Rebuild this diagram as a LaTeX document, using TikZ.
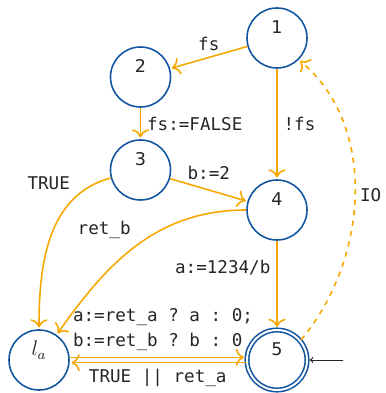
\documentclass[tikz,border=0pt]{standalone}
\usepackage{amsmath}
\usepackage{fontspec}
\setmainfont{DejaVu Sans}
\setmonofont{DejaVu Sans Mono}
\usetikzlibrary{arrows.meta}
\usetikzlibrary{automata}
\definecolor{stateblue}{RGB}{18,86,162}
\definecolor{transorange}{RGB}{246,168,0}

\begin{document}
\begin{tikzpicture}[shorten >=1pt,auto,initial text=,>={Computer Modern Rightarrow[scale=1.3]},
      every state/.style={draw=stateblue,line width=0.9pt,minimum size=1.2cm,inner sep=0pt,
                          text height=7.3pt,text depth=12pt,text=black!85},
      accepting by double/.append style={double distance=1.1pt},
      every initial by arrow/.style={black!85,thin,>=to},
      initial distance=0.7cm,
      trans/.style={->,transorange,line width=0.9pt},
      lbl/.style={font=\ttfamily,text=black!85}]
      				\useasboundingbox (0,0) rectangle (7.72,-7.86);
      				\node[state]                    (q_1) at (5.54,-0.76)      {1};
      				\node[state]                    (q_2) at (2.81,-1.54)      {2};
	      			\node[state]                    (q_3) [below of=q_2,node distance=1.86cm] {3};
	      			\node[state]                    (q_4) [below of=q_1,node distance=3.44cm] {4};
	      			\node[state,accepting,initial,initial right] (q_5) [below of=q_4,node distance=3cm] {5};
	      			\node[state]                    (l_a) [left of=q_5,node distance=4.76cm]  {\large$l_a$};
	     			\path[trans] (q_1) edge              node [lbl,above] {fs} (q_2)
	     			edge              node [lbl]       {!fs} (q_4)
	      			(q_2) edge              node [lbl]       {fs:=FALSE} (q_3)
	      			(q_3) edge              node [lbl,above,yshift=2pt] {b:=2} (q_4)
	      			edge [out=195,in=90] node [lbl,swap,pos=0.22] {TRUE} (l_a)
	      			(q_4) edge [out=180,in=55] node [lbl,swap] {ret\_b} (l_a)
	      			edge              node [lbl,swap,pos=0.3] {a:=1234/b} (q_5)
	      			([yshift=1.5pt]l_a.east) edge node [lbl,align=left,xshift=3pt] {a:=ret\_a ? a : 0;\\[2pt]b:=ret\_b ? b : 0} ([yshift=1.5pt]q_5.west)
	      			([yshift=-1.5pt]q_5.west) edge node [lbl] {TRUE || ret\_a} ([yshift=-1.5pt]l_a.east)
	      			(q_5.40) edge [dashed,out=50,in=-40,looseness=0.95] node [lbl,right,inner sep=2.5pt] {IO} (q_1.-45)
	      			;
    			\end{tikzpicture}
\end{document}
